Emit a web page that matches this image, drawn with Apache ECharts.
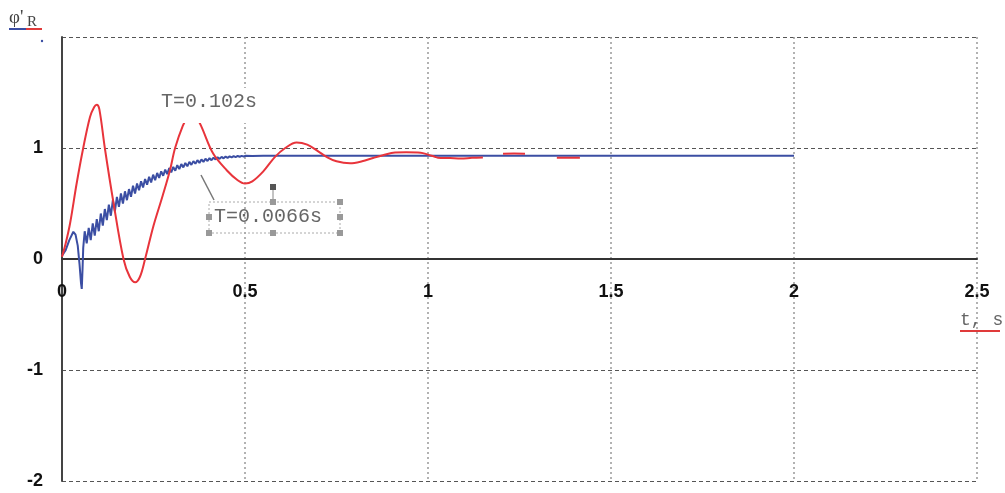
<!DOCTYPE html>
<html>
<head>
<meta charset="utf-8">
<script src="https://cdn.jsdelivr.net/npm/echarts@6/dist/echarts.min.js"></script>
<style>
html,body{margin:0;padding:0;background:#fff;}
#chart{width:1005px;height:493px;}
</style>
</head>
<body>
<div id="chart"></div>
<script>
// ---- data ----
const xTicks = [0, 0.5, 1, 1.5, 2, 2.5];
const yTicks = [-2, -1, 0, 1, 2];

// Red curve: T = 0.102 s (null = hidden/gap)
const redT = [0, 0.01, 0.022, 0.04, 0.058, 0.0765, 0.088, 0.095, 0.102, 0.117, 0.14, 0.168, 0.185, 0.2, 0.213, 0.227,
  0.25, 0.275, 0.295, 0.309, 0.33, 0.345, 0.355, 0.365, 0.38, 0.413, 0.45, 0.48, 0.5, 0.52, 0.55, 0.582, 0.61, 0.641,
  0.67, 0.7, 0.723, 0.75, 0.787, 0.82, 0.85, 0.877, 0.91, 0.94, 0.98, 1.0, 1.015, 1.027, 1.06, 1.09, 1.12, 1.15,
  1.18, 1.205, 1.235, 1.265, 1.31, 1.352, 1.385, 1.415];
const redY = [0.02, 0.14, 0.32, 0.68, 1.0, 1.28, 1.37, 1.39, 1.35, 1.0, 0.52, 0.0, -0.16, -0.21, -0.16, 0.0,
  0.3, 0.57, 0.8, 1.0, 1.2, 1.29, 1.31, 1.29, 1.2, 0.95, 0.8, 0.71, 0.68, 0.7, 0.79, 0.92, 1.0, 1.05,
  1.03, 0.97, 0.92, 0.88, 0.862, 0.88, 0.91, 0.935, 0.96, 0.962, 0.958, 0.94, 0.925, 0.913, 0.91, 0.905, 0.912, 0.915,
  null, 0.948, 0.95, 0.948, null, 0.913, 0.912, 0.913];

// Blue curve: T = 0.0066 s
const blueT = [0, 0.01, 0.02, 0.031, 0.037, 0.043, 0.048, 0.052, 0.054, 0.056, 0.058,
  0.062, 0.0675, 0.073, 0.0785, 0.084, 0.0895, 0.095, 0.1005, 0.106, 0.1115, 0.117, 0.1225, 0.128, 0.1335,
  0.139, 0.1445, 0.15, 0.1555, 0.161, 0.1665, 0.172, 0.1775, 0.183, 0.1885, 0.194, 0.1995, 0.205, 0.2105,
  0.216, 0.2215, 0.227, 0.2325, 0.238, 0.2435, 0.249, 0.2545, 0.26, 0.2655, 0.271, 0.2765, 0.282, 0.2875,
  0.293, 0.2985, 0.304, 0.3095, 0.315, 0.3205, 0.326, 0.3315, 0.337, 0.3425, 0.348, 0.3535, 0.359, 0.3645,
  0.37, 0.3755, 0.381, 0.3865, 0.392, 0.3975, 0.403, 0.4085, 0.414, 0.4195, 0.425, 0.4305, 0.436, 0.4415,
  0.447, 0.4525, 0.458, 0.4635, 0.469, 0.4745, 0.48, 0.4855, 0.491, 0.4965, 0.502, 0.52, 0.55, 1.0, 1.5, 2.0];
const blueY = [0.03, 0.08, 0.17, 0.245, 0.22, 0.12, -0.05, -0.22, -0.27, -0.1, 0.1,
  0.25, 0.14, 0.28, 0.17, 0.32, 0.21, 0.36, 0.25, 0.41, 0.30, 0.45, 0.35, 0.49, 0.39,
  0.53, 0.43, 0.56, 0.47, 0.59, 0.50, 0.61, 0.53, 0.63, 0.56, 0.66, 0.59, 0.68, 0.62,
  0.70, 0.645, 0.72, 0.67, 0.74, 0.69, 0.76, 0.71, 0.775, 0.73, 0.79, 0.75, 0.805, 0.765,
  0.82, 0.78, 0.83, 0.795, 0.845, 0.81, 0.855, 0.825, 0.865, 0.835, 0.875, 0.848, 0.882, 0.858,
  0.89, 0.866, 0.897, 0.875, 0.903, 0.883, 0.908, 0.89, 0.913, 0.897, 0.917, 0.902, 0.92, 0.907,
  0.923, 0.911, 0.925, 0.915, 0.927, 0.918, 0.928, 0.921, 0.929, 0.924, 0.93, 0.928, 0.93, 0.93, 0.93, 0.93];

const redLabel = 'T=0.102s';
const blueLabel = 'T=0.0066s';
const xName = 't, s';

const redData = redT.map((t, i) => [t, redY[i]]);
const blueData = blueT.map((t, i) => [t, blueY[i]]);

const chart = echarts.init(document.getElementById('chart'), null, {renderer: 'canvas'});
const tickFont = {color: '#111', fontWeight: 'bold', fontSize: 18, fontFamily: 'Liberation Sans, Arial, sans-serif'};
const monoFont = 'Liberation Mono, Courier New, monospace';

const gridTop = 37, gridBottom = 12, H = 493;
const plotH = H - gridTop - gridBottom;

const handles = [[209,217],[209,233],[273,233],[340,233],[340,217],[340,202],[273,202]].map(p => ({
  type: 'rect', shape: {x: p[0]-3, y: p[1]-3, width: 6, height: 6},
  style: {fill: '#999'}, z: 101
}));

chart.setOption({
  animation: false,
  grid: {left: 62, right: 28, top: gridTop, bottom: gridBottom, containLabel: false, outerBoundsMode: 'none'},
  xAxis: [{
    type: 'value', min: 0, max: 2.5, interval: 0.5,
    axisLine: {show: false},
    axisTick: {show: false},
    axisLabel: {show: false},
    splitLine: {show: true, lineStyle: {color: '#999', type: [2, 3], width: 1.5}}
  }, {
    type: 'value', min: 0, max: 2.5, interval: 0.5, position: 'bottom', offset: -plotH / 2,
    axisLine: {show: true, onZero: false, lineStyle: {color: '#333', width: 2}},
    axisTick: {show: false},
    axisLabel: Object.assign({margin: 24, formatter: v => String(v)}, tickFont),
    splitLine: {show: false}
  }],
  yAxis: {
    type: 'value', min: -2, max: 2, interval: 1,
    axisLine: {show: true, onZero: false, lineStyle: {color: '#444', width: 2}},
    axisTick: {show: false},
    axisLabel: Object.assign({margin: 19, formatter: v => (v === 2 ? '' : String(v))}, tickFont),
    splitLine: {show: true, lineStyle: {color: '#555', type: [4, 3], width: 1}}
  },
  series: [
    {
      type: 'line', name: blueLabel, data: blueData, showSymbol: false, smooth: false,
      lineStyle: {color: '#3b4ea3', width: 2}, z: 3
    },
    {
      type: 'line', name: redLabel, data: redData, showSymbol: false, smooth: 0.35, connectNulls: false,
      lineStyle: {color: '#e8343b', width: 2}, z: 4
    }
  ],
  graphic: [
    {type: 'rect', shape: {x: 157, y: 88, width: 108, height: 35}, style: {fill: '#fff'}, z: 100, silent: true},
    {type: 'text', x: 161, y: 102, z: 101,
      style: {text: redLabel, font: '20px ' + monoFont, fill: '#666', textVerticalAlign: 'middle'}},
    {type: 'line', shape: {x1: 201, y1: 175, x2: 214, y2: 200}, style: {stroke: '#777', lineWidth: 1.5}, z: 100},
    {type: 'rect', shape: {x: 209, y: 202, width: 131, height: 31},
      style: {fill: 'rgba(255,255,255,0)', stroke: '#aaa', lineWidth: 1, lineDash: [2, 2]}, z: 100},
    {type: 'line', shape: {x1: 273, y1: 187, x2: 273, y2: 202}, style: {stroke: '#888', lineWidth: 1}, z: 100},
    {type: 'rect', shape: {x: 270, y: 184, width: 6, height: 6}, style: {fill: '#555'}, z: 101},
    ...handles,
    {type: 'text', x: 214, y: 217, z: 102,
      style: {text: blueLabel, font: '20px ' + monoFont, fill: '#666', textVerticalAlign: 'middle'}},
    {type: 'text', x: 960, y: 320, z: 100,
      style: {text: xName, font: '18px ' + monoFont, fill: '#666', textVerticalAlign: 'middle'}},
    {type: 'line', shape: {x1: 960, y1: 331, x2: 1000, y2: 331}, style: {stroke: '#e03a3a', lineWidth: 2}, z: 100},
    {type: 'text', x: 9, y: 18, z: 100,
      style: {text: "φ'", font: '19px Liberation Serif, serif', fill: '#444', textVerticalAlign: 'middle'}},
    {type: 'text', x: 27, y: 22, z: 100,
      style: {text: 'R', font: '15px Liberation Serif, serif', fill: '#444', textVerticalAlign: 'middle'}},
    {type: 'line', shape: {x1: 9, y1: 29, x2: 26, y2: 29}, style: {stroke: '#3b4ea3', lineWidth: 2}, z: 100},
    {type: 'line', shape: {x1: 26, y1: 29, x2: 42, y2: 29}, style: {stroke: '#e03a3a', lineWidth: 2}, z: 100},
    {type: 'circle', shape: {cx: 42, cy: 41, r: 1.2}, style: {fill: '#3b4ea3'}, z: 100}
  ]
});
</script>
</body>
</html>
